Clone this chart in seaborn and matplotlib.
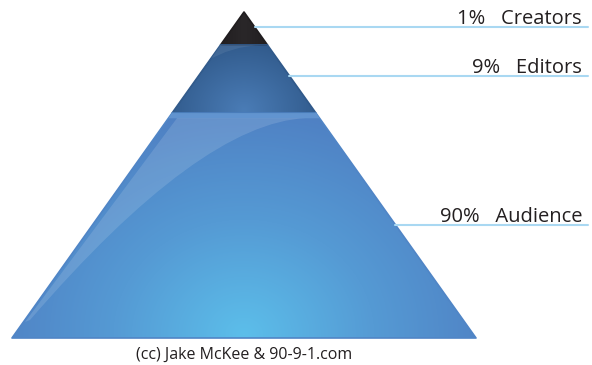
import numpy as np
import matplotlib
matplotlib.use("Agg")
import matplotlib.pyplot as plt
from matplotlib.patches import Polygon, PathPatch
from matplotlib.path import Path
from matplotlib.colors import LinearSegmentedColormap
import seaborn as sns

# ---- data ----
groups = ["Creators", "Editors", "Audience"]
percents = [1, 9, 90]
# band boundaries as fraction of pyramid height (top -> bottom)
band_edges = [0.0, 0.101, 0.31, 1.0]
label_fracs = [0.046, 0.196, 0.653]   # where leader lines meet the pyramid edge
footer = "(cc) Jake McKee & 90-9-1.com"

sns.set_theme(style="white")
plt.rcParams["font.family"] = ["Open Sans", "DejaVu Sans"]

W, H = 592, 365
fig = plt.figure(figsize=(W / 100, H / 100), dpi=100)
ax = fig.add_axes([0, 0, 1, 1])
ax.set_xlim(0, W)
ax.set_ylim(H, 0)
ax.axis("off")

apex_x, apex_y = 244, 12
base_y = 338
half_base = 232
height = base_y - apex_y


def y_at(f):
    return apex_y + f * height


def half_w(f):
    return half_base * f


def band_poly(f0, f1):
    return [(apex_x - half_w(f0), y_at(f0)), (apex_x + half_w(f0), y_at(f0)),
            (apex_x + half_w(f1), y_at(f1)), (apex_x - half_w(f1), y_at(f1))]


# gradient grid
gx = np.linspace(0, W, 600)
gy = np.linspace(0, H, 370)
GX, GY = np.meshgrid(gx, gy)

cmaps = {
    "Creators": LinearSegmentedColormap.from_list("c", ["#2a2729", "#1f1c1e"]),
    "Editors": LinearSegmentedColormap.from_list("e", ["#4a7cb6", "#2d5585"]),
    "Audience": LinearSegmentedColormap.from_list("a", ["#5cbeea", "#559ad4", "#4f80c3"]),
}
fields = {
    "Creators": np.clip(np.abs(GX - apex_x) / 30, 0, 1),
    "Editors": np.clip(np.hypot((GX - apex_x) / 90, (GY - 110) / 80), 0, 1),
    "Audience": np.clip(np.hypot((GX - apex_x) / 260, (GY - 335) / 230), 0, 1),
}

for i, g in enumerate(groups):
    f0, f1 = band_edges[i], band_edges[i + 1]
    poly = Polygon(band_poly(f0, f1), closed=True, facecolor="none",
                   edgecolor="none")
    ax.add_patch(poly)
    im = ax.imshow(fields[g], cmap=cmaps[g], extent=(0, W, H, 0),
                   origin="upper", interpolation="bilinear", zorder=1,
                   aspect="auto")
    im.set_clip_path(poly)
    edgec = cmaps[g](0.9)
    ax.add_patch(Polygon(band_poly(f0, f1), closed=True, facecolor="none",
                         edgecolor=edgec, lw=1.2, joinstyle="round", zorder=2))

# light strip at the top of the audience band
fa = band_edges[2]
strip = Polygon(band_poly(fa, fa + 0.016), closed=True, facecolor="#8cc0ec",
                alpha=0.3, edgecolor="none", zorder=3)
ax.add_patch(strip)

# glossy swoosh in the audience band
ya = y_at(fa) + 5
xl = apex_x - half_w(fa) - 3
sw_verts = [(xl + 8, ya), (apex_x + half_w(fa) - 10, ya),
            (200, ya + 5), (30, 320),
            (25, 322), (xl + 8, ya)]
sw_codes = [Path.MOVETO, Path.LINETO, Path.CURVE3, Path.CURVE3,
            Path.LINETO, Path.CLOSEPOLY]
swoosh = PathPatch(Path(sw_verts, sw_codes), facecolor="white", alpha=0.13,
                   edgecolor="none", zorder=3)
clip_a = Polygon(band_poly(fa, 1.0), closed=True, transform=ax.transData)
swoosh.set_clip_path(clip_a)
ax.add_patch(swoosh)

# subtle swoosh in editors band
fe = band_edges[1]
ye = y_at(fe)
sw2 = [(apex_x - half_w(fe), ye), (apex_x + half_w(fe) - 5, ye),
       (200, ye + 2), (160, y_at(band_edges[2]) - 5),
       (apex_x - half_w(band_edges[2]), y_at(band_edges[2])), (apex_x - half_w(fe), ye)]
swoosh2 = PathPatch(Path(sw2, sw_codes), facecolor="white", alpha=0.08,
                    edgecolor="none", zorder=3)
swoosh2.set_clip_path(Polygon(band_poly(fe, band_edges[2]), closed=True,
                              transform=ax.transData))
ax.add_patch(swoosh2)

# leader lines and labels
line_end = 588
for g, p, lf in zip(groups, percents, label_fracs):
    ly = y_at(lf)
    lx = apex_x + half_w(lf)
    sns.lineplot(x=[lx, line_end], y=[ly, ly], ax=ax, color="#a9d8f2",
                 lw=1.5, zorder=4)
    ax.text(582, ly - 2.5, f"{p}%   {g}", ha="right", va="baseline",
            fontsize=14.5, color="#231f20", zorder=5)

ax.text(apex_x, 355, footer, ha="center", va="center", fontsize=11.5,
        color="#231f20")

fig.savefig("out.png", dpi=100)
